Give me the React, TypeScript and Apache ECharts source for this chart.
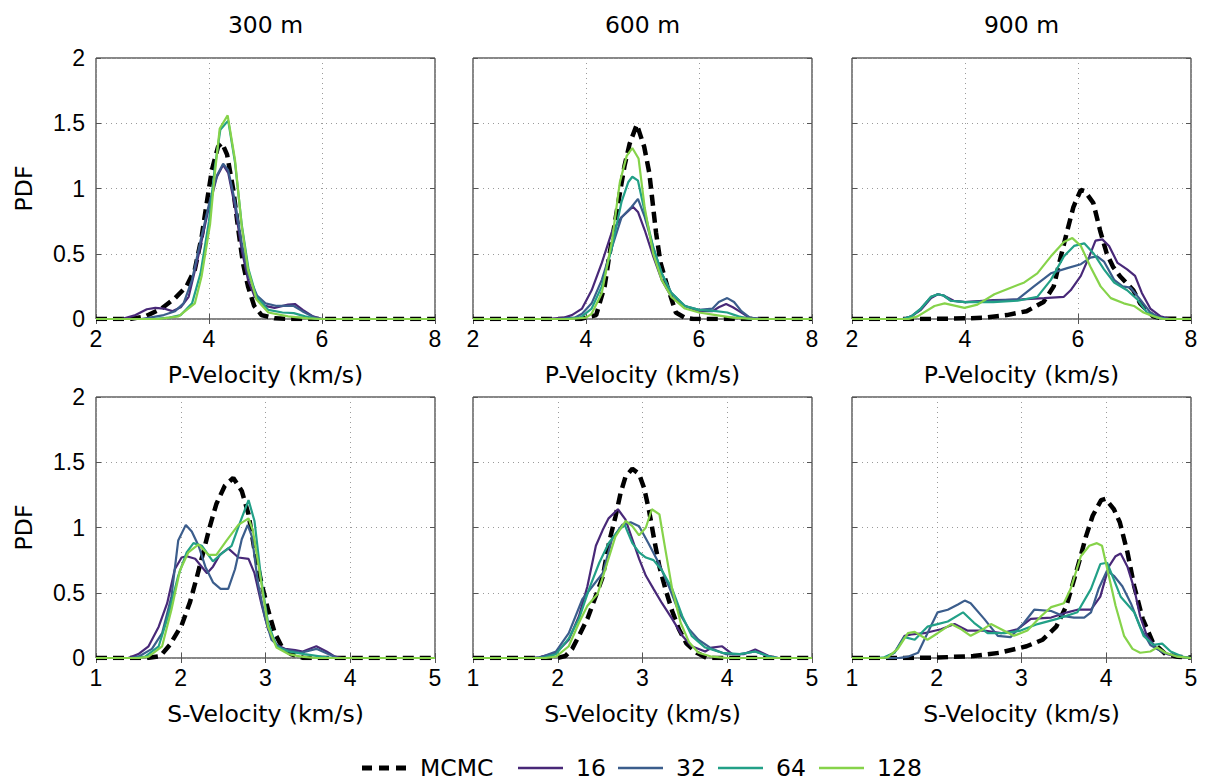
import React, { useEffect, useRef } from "react";
import * as echarts from "echarts";

// ---------- labels / ticks ----------
const columnTitles = ["300 m", "600 m", "900 m"];
const rowAxisNames = ["P-Velocity (km/s)", "S-Velocity (km/s)"];
const yAxisName = "PDF";
const seriesNames = ["MCMC", "16", "32", "64", "128"];
const seriesColors = ["#000000", "#482878", "#3b5d8c", "#22a087", "#86d34a"];
const pVelocityTicks = [2, 4, 6, 8];
const sVelocityTicks = [1, 2, 3, 4, 5];
const pdfTicks = [0, 0.5, 1, 1.5, 2];

// ---------- P-velocity, 300 m ----------
const p300Mcmc = [[2,0],[2.6,0],[2.87,0.02],[3.16,0.08],[3.4,0.16],[3.6,0.25],[3.75,0.38],[3.87,0.63],[3.96,0.89],[4.05,1.14],[4.16,1.32],[4.23,1.35],[4.32,1.26],[4.43,0.99],[4.52,0.68],[4.6,0.43],[4.69,0.25],[4.8,0.1],[4.93,0.03],[5.16,0.005],[5.4,0],[8,0]];
const p300N16 = [[2,0],[2.45,0],[2.5,0.005],[2.7,0.03],[2.9,0.075],[3.05,0.085],[3.2,0.08],[3.35,0.06],[3.5,0.09],[3.64,0.17],[3.81,0.48],[3.99,0.84],[4.14,1.09],[4.25,1.18],[4.34,1.12],[4.46,0.86],[4.58,0.53],[4.69,0.3],[4.81,0.17],[4.99,0.1],[5.16,0.085],[5.4,0.11],[5.52,0.115],[5.66,0.07],[5.84,0.02],[6,0],[8,0]];
const p300N32 = [[2,0],[2.8,0],[3.0,0.015],[3.2,0.03],[3.4,0.06],[3.55,0.12],[3.7,0.3],[3.85,0.6],[4.0,0.88],[4.14,1.1],[4.25,1.19],[4.34,1.14],[4.46,0.9],[4.58,0.58],[4.7,0.33],[4.85,0.18],[5.0,0.12],[5.2,0.1],[5.4,0.1],[5.5,0.1],[5.65,0.06],[5.85,0.015],[6,0],[8,0]];
const p300N64 = [[2,0],[3.0,0],[3.3,0.01],[3.5,0.03],[3.7,0.12],[3.85,0.35],[4.0,0.75],[4.1,1.15],[4.2,1.45],[4.34,1.52],[4.46,1.2],[4.58,0.72],[4.7,0.38],[4.84,0.17],[5.05,0.07],[5.3,0.05],[5.5,0.045],[5.7,0.02],[5.9,0],[8,0]];
const p300N128 = [[2,0],[3.1,0],[3.46,0.02],[3.75,0.12],[3.87,0.33],[4.02,0.73],[4.1,1.1],[4.19,1.46],[4.33,1.56],[4.46,1.22],[4.58,0.71],[4.69,0.38],[4.84,0.15],[5.05,0.05],[5.4,0.02],[5.75,0.005],[6,0],[8,0]];

// ---------- P-velocity, 600 m ----------
const p600Mcmc = [[2,0],[3.9,0],[4.18,0.03],[4.33,0.25],[4.41,0.48],[4.5,0.71],[4.59,0.94],[4.68,1.17],[4.77,1.34],[4.9,1.49],[5.03,1.32],[5.12,1.12],[5.18,0.89],[5.24,0.66],[5.32,0.43],[5.44,0.25],[5.59,0.05],[5.75,0.01],[5.9,0],[8,0]];
const p600N16 = [[2,0],[3.3,0],[3.6,0.01],[3.75,0.03],[3.93,0.08],[4.1,0.22],[4.28,0.43],[4.46,0.67],[4.63,0.78],[4.83,0.86],[4.92,0.82],[5.04,0.68],[5.19,0.48],[5.34,0.3],[5.51,0.17],[5.75,0.1],[6.0,0.06],[6.24,0.06],[6.35,0.09],[6.48,0.115],[6.6,0.09],[6.71,0.06],[6.89,0.01],[7.1,0],[8,0]];
const p600N32 = [[2,0],[3.5,0],[3.8,0.01],[3.93,0.04],[4.1,0.12],[4.28,0.3],[4.46,0.55],[4.63,0.78],[4.81,0.86],[4.92,0.92],[5.04,0.78],[5.19,0.55],[5.34,0.35],[5.51,0.2],[5.75,0.1],[6.0,0.07],[6.24,0.08],[6.35,0.13],[6.5,0.16],[6.62,0.13],[6.75,0.06],[6.9,0.01],[7.1,0],[8,0]];
const p600N64 = [[2,0],[3.6,0],[3.9,0.01],[4.1,0.08],[4.28,0.25],[4.46,0.55],[4.63,0.9],[4.75,1.05],[4.82,1.09],[4.92,1.06],[5.04,0.82],[5.19,0.55],[5.34,0.35],[5.51,0.2],[5.75,0.1],[6.0,0.07],[6.3,0.06],[6.5,0.05],[6.7,0.02],[6.9,0],[8,0]];
const p600N128 = [[2,0],[3.7,0],[4.0,0.01],[4.1,0.04],[4.28,0.2],[4.46,0.6],[4.6,1.05],[4.72,1.25],[4.82,1.31],[4.93,1.23],[5.04,0.85],[5.19,0.5],[5.34,0.3],[5.51,0.17],[5.75,0.08],[6.0,0.05],[6.3,0.03],[6.6,0.01],[7.0,0],[8,0]];

// ---------- P-velocity, 900 m ----------
const p900Mcmc = [[2,0],[3.3,0],[4.0,0.005],[4.33,0.01],[4.74,0.03],[5.09,0.06],[5.39,0.13],[5.57,0.25],[5.68,0.45],[5.8,0.66],[5.92,0.86],[6.05,0.99],[6.12,0.98],[6.27,0.89],[6.39,0.68],[6.51,0.5],[6.62,0.4],[6.74,0.33],[6.98,0.22],[7.1,0.12],[7.33,0.02],[7.5,0.003],[8,0]];
const p900N16 = [[2,0],[2.9,0],[3.05,0.02],[3.22,0.07],[3.4,0.16],[3.52,0.19],[3.62,0.18],[3.8,0.14],[4.0,0.13],[4.5,0.145],[5.0,0.15],[5.4,0.16],[5.75,0.17],[5.87,0.22],[6.05,0.33],[6.2,0.48],[6.31,0.6],[6.43,0.61],[6.55,0.56],[6.7,0.43],[6.87,0.38],[7.01,0.33],[7.13,0.2],[7.28,0.08],[7.46,0.02],[7.64,0],[8,0]];
const p900N32 = [[2,0],[2.9,0],[3.05,0.02],[3.22,0.08],[3.4,0.17],[3.52,0.19],[3.62,0.18],[3.75,0.14],[4.0,0.13],[4.5,0.14],[4.93,0.15],[5.22,0.25],[5.52,0.35],[5.81,0.39],[6.05,0.42],[6.22,0.47],[6.34,0.48],[6.46,0.44],[6.64,0.3],[6.79,0.25],[6.93,0.24],[7.1,0.15],[7.28,0.05],[7.45,0.01],[7.6,0],[8,0]];
const p900N64 = [[2,0],[2.9,0],[3.05,0.02],[3.22,0.08],[3.4,0.17],[3.52,0.19],[3.62,0.18],[3.75,0.14],[4.0,0.13],[4.5,0.13],[4.93,0.14],[5.28,0.17],[5.52,0.3],[5.75,0.48],[5.93,0.56],[6.11,0.58],[6.28,0.5],[6.46,0.38],[6.64,0.28],[6.87,0.22],[7.05,0.15],[7.22,0.05],[7.4,0.01],[7.55,0],[8,0]];
const p900N128 = [[2,0],[3.0,0],[3.16,0.02],[3.46,0.1],[3.64,0.12],[3.99,0.085],[4.22,0.11],[4.52,0.19],[4.81,0.24],[5.05,0.28],[5.28,0.35],[5.52,0.48],[5.75,0.59],[5.9,0.62],[6.05,0.56],[6.22,0.4],[6.4,0.25],[6.58,0.16],[6.81,0.12],[6.99,0.1],[7.16,0.05],[7.34,0.02],[7.5,0],[8,0]];

// ---------- S-velocity, 300 m ----------
const s300Mcmc = [[1,0],[1.6,0],[1.76,0.015],[1.87,0.1],[2.01,0.25],[2.11,0.43],[2.19,0.62],[2.27,0.82],[2.34,1.0],[2.42,1.18],[2.52,1.32],[2.62,1.38],[2.72,1.28],[2.8,1.1],[2.87,0.83],[2.95,0.58],[3.03,0.37],[3.11,0.19],[3.19,0.09],[3.3,0.03],[3.45,0],[5,0]];
const s300N16 = [[1,0],[1.38,0],[1.5,0.03],[1.62,0.09],[1.74,0.24],[1.84,0.42],[1.93,0.68],[2.01,0.77],[2.07,0.78],[2.17,0.76],[2.31,0.65],[2.38,0.7],[2.46,0.79],[2.56,0.84],[2.68,0.77],[2.8,0.76],[2.87,0.65],[2.95,0.42],[3.03,0.22],[3.13,0.1],[3.23,0.07],[3.35,0.06],[3.44,0.05],[3.6,0.09],[3.72,0.05],[3.82,0.01],[3.9,0],[5,0]];
const s300N32 = [[1,0],[1.4,0],[1.5,0.01],[1.66,0.07],[1.78,0.19],[1.89,0.47],[1.97,0.9],[2.06,1.02],[2.13,0.97],[2.21,0.86],[2.29,0.7],[2.38,0.58],[2.47,0.53],[2.56,0.53],[2.64,0.68],[2.72,0.91],[2.79,1.02],[2.84,0.93],[2.91,0.58],[2.99,0.32],[3.07,0.14],[3.19,0.07],[3.42,0.04],[3.6,0.07],[3.74,0.03],[3.85,0],[5,0]];
const s300N64 = [[1,0],[1.45,0],[1.58,0.01],[1.74,0.09],[1.85,0.32],[1.97,0.63],[2.07,0.81],[2.15,0.88],[2.25,0.86],[2.38,0.74],[2.5,0.81],[2.6,0.86],[2.7,1.04],[2.8,1.21],[2.87,1.05],[2.95,0.6],[3.03,0.27],[3.13,0.09],[3.27,0.05],[3.46,0.03],[3.66,0.01],[3.8,0],[5,0]];
const s300N128 = [[1,0],[1.5,0],[1.62,0.01],[1.78,0.09],[1.89,0.37],[1.99,0.67],[2.09,0.81],[2.21,0.87],[2.33,0.79],[2.42,0.79],[2.54,0.9],[2.68,1.02],[2.8,1.07],[2.85,0.98],[2.95,0.58],[3.03,0.24],[3.13,0.08],[3.27,0.03],[3.42,0.01],[3.6,0],[5,0]];

// ---------- S-velocity, 600 m ----------
const s600Mcmc = [[1,0],[2.0,0],[2.09,0.015],[2.17,0.07],[2.25,0.17],[2.35,0.3],[2.44,0.46],[2.53,0.62],[2.61,0.9],[2.68,1.08],[2.74,1.26],[2.8,1.39],[2.88,1.45],[2.96,1.41],[3.02,1.3],[3.08,1.12],[3.14,0.9],[3.2,0.7],[3.27,0.53],[3.35,0.36],[3.43,0.22],[3.52,0.11],[3.64,0.04],[3.76,0],[5,0]];
const s600N16 = [[1,0],[1.7,0],[1.78,0.005],[1.98,0.04],[2.13,0.14],[2.25,0.32],[2.35,0.55],[2.45,0.86],[2.53,0.98],[2.6,1.07],[2.71,1.14],[2.8,1.06],[2.88,0.91],[2.96,0.76],[3.04,0.63],[3.13,0.53],[3.23,0.42],[3.35,0.3],[3.47,0.17],[3.58,0.09],[3.74,0.05],[3.82,0.08],[3.94,0.09],[4.06,0.03],[4.2,0.03],[4.33,0.066],[4.49,0.015],[4.6,0],[5,0]];
const s600N32 = [[1,0],[1.7,0],[1.8,0.005],[1.98,0.05],[2.13,0.19],[2.29,0.45],[2.41,0.55],[2.53,0.65],[2.64,0.91],[2.76,1.02],[2.86,1.04],[2.96,1.01],[3.07,0.88],[3.19,0.73],[3.31,0.55],[3.43,0.35],[3.55,0.22],[3.66,0.14],[3.82,0.07],[3.98,0.03],[4.15,0.03],[4.33,0.05],[4.5,0.01],[4.6,0],[5,0]];
const s600N64 = [[1,0],[1.75,0],[1.85,0.005],[1.98,0.03],[2.13,0.15],[2.25,0.3],[2.37,0.53],[2.49,0.73],[2.6,0.88],[2.72,0.98],[2.79,1.02],[2.88,0.88],[2.96,0.81],[3.04,0.77],[3.13,0.75],[3.23,0.67],[3.35,0.53],[3.47,0.32],[3.58,0.17],[3.74,0.08],[3.94,0.04],[4.15,0.03],[4.33,0.05],[4.5,0.01],[4.6,0],[5,0]];
const s600N128 = [[1,0],[1.85,0],[1.98,0.01],[2.13,0.09],[2.25,0.27],[2.35,0.4],[2.47,0.49],[2.56,0.68],[2.68,0.93],[2.8,1.05],[2.88,1.01],[2.96,0.94],[3.04,1.0],[3.11,1.14],[3.2,1.1],[3.27,0.83],[3.35,0.53],[3.45,0.27],[3.55,0.12],[3.66,0.04],[3.82,0.01],[4.0,0],[5,0]];

// ---------- S-velocity, 900 m ----------
const s900Mcmc = [[1,0],[1.7,0],[2.0,0.003],[2.43,0.015],[2.74,0.04],[3.06,0.09],[3.25,0.14],[3.41,0.24],[3.53,0.4],[3.61,0.58],[3.69,0.76],[3.76,0.93],[3.84,1.09],[3.94,1.21],[3.99,1.22],[4.09,1.14],[4.16,1.04],[4.25,0.81],[4.33,0.55],[4.43,0.3],[4.55,0.12],[4.7,0.03],[4.84,0.01],[5,0.003]];
const s900N16 = [[1,0],[1.38,0],[1.5,0.04],[1.62,0.17],[1.7,0.18],[1.85,0.19],[2.05,0.22],[2.21,0.26],[2.36,0.21],[2.56,0.21],[2.76,0.19],[2.95,0.22],[3.11,0.3],[3.35,0.31],[3.54,0.35],[3.66,0.37],[3.82,0.37],[3.93,0.47],[4.03,0.7],[4.11,0.78],[4.17,0.8],[4.25,0.7],[4.33,0.53],[4.4,0.32],[4.48,0.17],[4.6,0.07],[4.72,0.03],[4.87,0.008],[5,0]];
const s900N32 = [[1,0],[1.55,0],[1.66,0.01],[1.78,0.04],[1.89,0.19],[2.01,0.35],[2.13,0.37],[2.25,0.41],[2.33,0.44],[2.4,0.42],[2.56,0.3],[2.72,0.17],[2.87,0.16],[3.03,0.27],[3.15,0.37],[3.35,0.36],[3.5,0.32],[3.62,0.31],[3.74,0.31],[3.82,0.35],[3.91,0.53],[4.01,0.67],[4.09,0.63],[4.19,0.55],[4.29,0.42],[4.4,0.24],[4.52,0.1],[4.68,0.04],[4.87,0.01],[5,0]];
const s900N64 = [[1,0],[1.3,0],[1.38,0.005],[1.5,0.04],[1.62,0.16],[1.74,0.14],[1.89,0.24],[2.01,0.26],[2.13,0.28],[2.31,0.35],[2.44,0.27],[2.6,0.19],[2.8,0.19],[2.99,0.21],[3.19,0.26],[3.42,0.3],[3.66,0.35],[3.82,0.53],[3.93,0.72],[4.01,0.73],[4.09,0.6],[4.17,0.47],[4.33,0.35],[4.44,0.17],[4.56,0.1],[4.66,0.11],[4.76,0.05],[4.91,0.008],[5,0]];
const s900N128 = [[1,0],[1.35,0],[1.42,0.005],[1.54,0.07],[1.66,0.19],[1.74,0.2],[1.89,0.14],[2.01,0.19],[2.17,0.26],[2.29,0.22],[2.4,0.17],[2.52,0.21],[2.64,0.26],[2.76,0.22],[2.91,0.17],[3.07,0.21],[3.23,0.32],[3.35,0.39],[3.5,0.42],[3.58,0.53],[3.7,0.78],[3.8,0.86],[3.89,0.88],[3.95,0.86],[4.03,0.63],[4.11,0.4],[4.21,0.17],[4.31,0.07],[4.4,0.04],[4.52,0.05],[4.6,0.08],[4.7,0.04],[4.84,0.01],[5,0]];

const panelSeries = [
  [p300Mcmc, p300N16, p300N32, p300N64, p300N128],
  [p600Mcmc, p600N16, p600N32, p600N64, p600N128],
  [p900Mcmc, p900N16, p900N32, p900N64, p900N128],
  [s300Mcmc, s300N16, s300N32, s300N64, s300N128],
  [s600Mcmc, s600N16, s600N32, s600N64, s600N128],
  [s900Mcmc, s900N16, s900N32, s900N64, s900N128],
];

const GRID_LEFT = [96, 473, 852];
const GRID_TOP = [58, 397];
const GRID_W = 339;
const GRID_H = 261;
const LABEL_FONT = "Liberation Sans";
const TEXT_FONT = "DejaVu Sans";
const MCMC_DASH = [11, 6];

// legend layout (pixel positions of the hand-drawn legend keys)
const LEGEND_Y = 768;
const LEGEND_KEY_X = [362, 518, 618, 718, 819];
const LEGEND_KEY_W = 45;
const LEGEND_TEXT_GAP = 13;

function buildOption() {
  const grid: any[] = [];
  const xAxis: any[] = [];
  const yAxis: any[] = [];
  const series: any[] = [];
  const gridLine = { show: true, lineStyle: { color: "#9a9a9a", width: 1, type: [1, 4] } };
  const tick = { show: true, inside: true, length: 5, lineStyle: { color: "#555", width: 1 } };

  for (let r = 0; r < 2; r++) {
    const ticks = r === 0 ? pVelocityTicks : sVelocityTicks;
    for (let c = 0; c < 3; c++) {
      const g = r * 3 + c;
      grid.push({
        left: GRID_LEFT[c], top: GRID_TOP[r], width: GRID_W, height: GRID_H,
        show: true, borderColor: "#111", borderWidth: 1, backgroundColor: "transparent",
      });
      const xRange = { min: ticks[0], max: ticks[ticks.length - 1], interval: ticks[1] - ticks[0] };
      const yRange = { min: pdfTicks[0], max: pdfTicks[pdfTicks.length - 1], interval: pdfTicks[1] - pdfTicks[0] };
      xAxis.push({
        type: "value", gridIndex: g, position: "bottom", ...xRange,
        name: rowAxisNames[r], nameLocation: "middle", nameGap: 44,
        nameTextStyle: { fontFamily: TEXT_FONT, fontSize: 23.5, color: "#000" },
        axisLine: { show: false }, axisTick: tick, splitLine: gridLine,
        axisLabel: { show: true, fontFamily: LABEL_FONT, fontSize: 23, color: "#000", margin: 8, showMinLabel: true, showMaxLabel: true },
      });
      xAxis.push({
        type: "value", gridIndex: g, position: "top", ...xRange,
        axisLine: { show: false }, axisTick: tick, splitLine: { show: false }, axisLabel: { show: false },
      });
      yAxis.push({
        type: "value", gridIndex: g, position: "left", ...yRange,
        name: c === 0 ? yAxisName : "", nameLocation: "middle", nameGap: 60,
        nameTextStyle: { fontFamily: TEXT_FONT, fontSize: 23.5, color: "#000" },
        axisLine: { show: false }, axisTick: tick, splitLine: gridLine,
        axisLabel: { show: c === 0, fontFamily: LABEL_FONT, fontSize: 23, color: "#000", margin: 11, showMinLabel: true, showMaxLabel: true },
      });
      yAxis.push({
        type: "value", gridIndex: g, position: "right", ...yRange,
        axisLine: { show: false }, axisTick: tick, splitLine: { show: false }, axisLabel: { show: false },
      });
      panelSeries[g].forEach((data, i) => {
        series.push({
          type: "line", name: seriesNames[i], data,
          xAxisIndex: g * 2, yAxisIndex: g * 2,
          symbol: "none", showSymbol: false, clip: true,
          z: 2 + i,
          lineStyle: i === 0
            ? { color: seriesColors[i], width: 4.5, type: MCMC_DASH, cap: "butt" }
            : { color: seriesColors[i], width: 2.2 },
          itemStyle: { color: seriesColors[i] },
        });
      });
    }
  }

  const graphic: any[] = columnTitles.map((t, c) => ({
    type: "text",
    x: GRID_LEFT[c] + GRID_W / 2,
    y: 25,
    style: { text: t, align: "center", verticalAlign: "middle", fontFamily: TEXT_FONT, fontSize: 23.5, fill: "#000" },
  }));

  seriesNames.forEach((name, i) => {
    const x0 = LEGEND_KEY_X[i];
    graphic.push({
      type: "line",
      shape: { x1: x0, y1: LEGEND_Y, x2: x0 + LEGEND_KEY_W, y2: LEGEND_Y },
      style: i === 0
        ? { stroke: seriesColors[i], lineWidth: 5, lineDash: [10, 7], lineCap: "butt" }
        : { stroke: seriesColors[i], lineWidth: 2.5 },
    });
    graphic.push({
      type: "text",
      x: x0 + LEGEND_KEY_W + LEGEND_TEXT_GAP,
      y: LEGEND_Y,
      style: { text: name, align: "left", verticalAlign: "middle", fontFamily: TEXT_FONT, fontSize: 23.5, fill: "#000" },
    });
  });

  return {
    animation: false,
    textStyle: { fontFamily: TEXT_FONT },
    grid, xAxis, yAxis, series, graphic,
  };
}

export default function App() {
  const ref = useRef<HTMLDivElement>(null);
  useEffect(() => {
    if (!ref.current) return;
    const chart = echarts.init(ref.current, null, { renderer: "svg" });
    chart.setOption(buildOption());
    return () => chart.dispose();
  }, []);
  return (
    <div
      ref={ref}
      style={{ position: "absolute", left: 0, top: 0, width: 1207, height: 782, background: "#fff" }}
    />
  );
}
